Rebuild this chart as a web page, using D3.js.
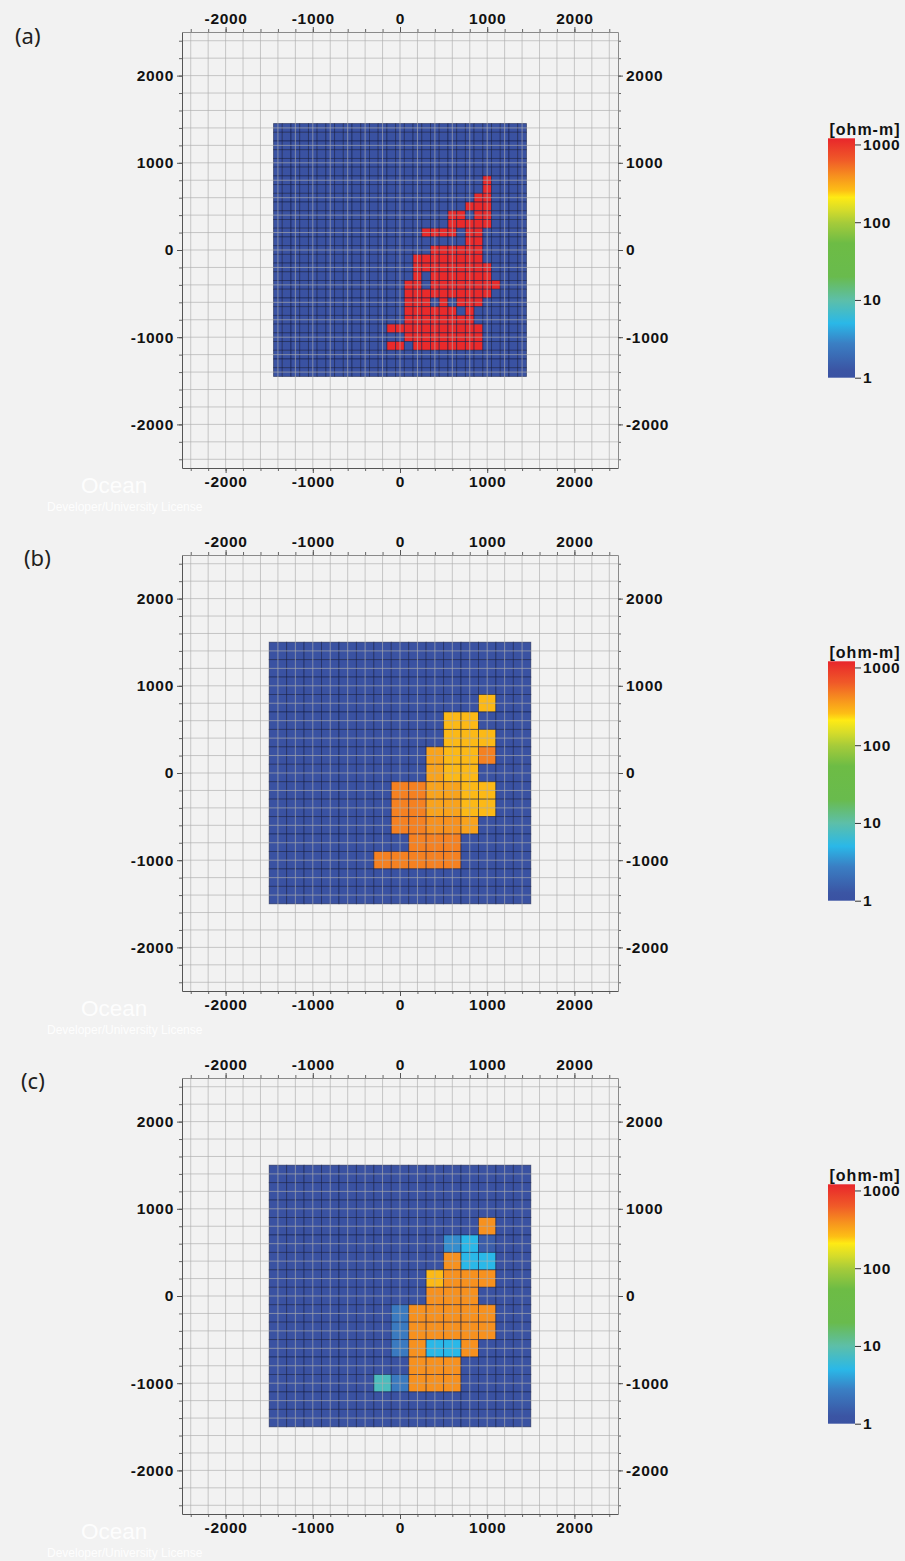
<!DOCTYPE html>
<html>
<head>
<meta charset="utf-8">
<script src="https://cdn.jsdelivr.net/npm/d3@7"></script>
<style>
  html, body { margin: 0; padding: 0; background: #f2f2f2; }
  svg { display: block; }
</style>
</head>
<body>
<svg id="chart" width="905" height="1561"></svg>
<script>
// Map-view resistivity models (coordinates in metres).
// Each string is one row of cells, north to south; one character per cell.

const axisTicks = [-2000, -1000, 0, 1000, 2000];
const scaleTicks = [1, 10, 100, 1000];
const panelLabels = ["(a)", "(b)", "(c)"];

// (a) 100 m cells: columns x = -1400 ... 1400, rows y = 1400 ... -1400
const modelA = [
  ".............................",
  ".............................",
  ".............................",
  ".............................",
  ".............................",
  ".............................",
  "........................R....",
  "........................R....",
  ".......................RR....",
  "......................RRR....",
  "....................RR.RR....",
  "....................RRRRR....",
  ".................RRRR.RR.....",
  "......................RR.....",
  "..................RRRRRR.....",
  "................RRRRRRRR.....",
  "................RRRRRRRRR....",
  "................R.RRRRRRR....",
  "...............RR.RRRRRRRR...",
  "...............RRRRRRRRRR....",
  "...............RRR.R.RRR.....",
  "...............RRRRRR.R......",
  "...............RRRRRRRR......",
  ".............RRRRRRRRRRR.....",
  "...............RRRRRRRRR.....",
  ".............RR.RRRRRRRR.....",
  ".............................",
  ".............................",
  "............................."
];

// (b) 200 m cells: columns x = -1400 ... 1400, rows y = 1400 ... -1400
const modelB = [
  "...............",
  "...............",
  "...............",
  "............y..",
  "..........yy...",
  "..........yyy..",
  ".........myyo..",
  ".........myy...",
  ".......oommyy..",
  ".......oommyy..",
  ".......oonnm...",
  "........ooo....",
  "......ooooo....",
  "...............",
  "..............."
];

// (c) 200 m cells, same layout as (b)
const modelC = [
  "...............",
  "...............",
  "...............",
  "............n..",
  "..........lcq..",
  "..........ncc..",
  ".........ynnn..",
  ".........nnn...",
  ".......bnnnnn..",
  ".......bnnnnn..",
  ".......bnccn...",
  "........nnn....",
  "......pbnnn....",
  "...............",
  "..............."
];

// Resistivity (ohm-m) for each cell code
const cellCodes = [".", "R", "o", "n", "m", "y", "c", "l", "b", "p", "q"];
const cellOhm   = [1, 1150, 450, 390, 330, 270, 5, 3.2, 2.5, 8, 1.5];

// Colour ramp along log10(resistivity)
const rampLog = [0, 0.1, 0.44, 0.7, 1.0, 1.3, 1.73, 1.99, 2.16, 2.32, 2.41, 2.585, 2.8, 3.08];
const rampCol = ["#3a52a2", "#3b55a4", "#3a7fc4", "#2ab8e8", "#5dbfa8", "#69bb4d", "#6dbc45",
                 "#a5cb3a", "#d6dc2a", "#ffea14", "#fdbe15", "#f7931e", "#f05a28", "#e8262b"];

const W = 905, H = 1561;
const svg = d3.select("#chart");
svg.append("rect").attr("width", W).attr("height", H).attr("fill", "#f2f2f2");

const scaleMax = 1200;
const logMax = Math.log10(scaleMax);
const rampScale = d3.scaleLinear().domain(rampLog).range(rampCol)
  .interpolate(d3.interpolateRgb).clamp(true);
const color = v => rampScale(Math.log10(v));

const defs = svg.append("defs");
const grad = defs.append("linearGradient").attr("id", "ohmGrad")
  .attr("x1", 0).attr("y1", 1).attr("x2", 0).attr("y2", 0);
rampLog.forEach((l, k) => {
  grad.append("stop").attr("offset", Math.min(1, l / logMax)).attr("stop-color", rampCol[k]);
});

const labelFont = "'Liberation Sans', Arial, sans-serif";
const plainNum = d => String(d);

function styleAxisText(sel, size) {
  sel.selectAll("text")
    .attr("font-family", labelFont)
    .attr("font-weight", "bold")
    .attr("font-size", size)
    .attr("letter-spacing", "0.7px")
    .attr("fill", "#111");
}

const panels = [
  { model: modelA, size: 100, off: 0,    lx: 15, ly: 44 },
  { model: modelB, size: 200, off: 523,  lx: 24, ly: 566 },
  { model: modelC, size: 200, off: 1046, lx: 21, ly: 1089 }
];

panels.forEach((p, idx) => {
  const off = p.off;
  const x = d3.scaleLinear().domain([-2500, 2500]).range([182, 618]);
  const y = d3.scaleLinear().domain([-2500, 2500]).range([468 + off, 32 + off]);
  const g = svg.append("g");

  // model cells
  const cells = [];
  const n = p.model.length;
  p.model.forEach((row, j) => {
    row.padEnd(n, ".").split("").forEach((ch, i) => {
      const k = Math.max(0, cellCodes.indexOf(ch));
      cells.push({ cx: -1400 + i * p.size, cy: 1400 - j * p.size, v: cellOhm[k] });
    });
  });
  const h = p.size / 2;
  g.append("g").selectAll("rect").data(cells).join("rect")
    .attr("x", d => x(d.cx - h))
    .attr("y", d => y(d.cy + h))
    .attr("width", d => x(d.cx + h) - x(d.cx - h))
    .attr("height", d => y(d.cy - h) - y(d.cy + h))
    .attr("fill", d => color(d.v))
    .attr("stroke", "#141c45")
    .attr("stroke-opacity", 0.6)
    .attr("stroke-width", 0.9);

  // 200 m grid drawn over the model
  const gridVals = x.ticks(25);
  g.append("g").selectAll("line").data(gridVals).join("line")
    .attr("x1", d => x(d)).attr("x2", d => x(d))
    .attr("y1", y(-2500)).attr("y2", y(2500))
    .attr("stroke", "#adadad").attr("stroke-opacity", 0.65).attr("stroke-width", 1);
  g.append("g").selectAll("line").data(gridVals).join("line")
    .attr("y1", d => y(d)).attr("y2", d => y(d))
    .attr("x1", x(-2500)).attr("x2", x(2500))
    .attr("stroke", "#adadad").attr("stroke-opacity", 0.65).attr("stroke-width", 1);

  // minor ticks on all four sides
  const minor = [
    [d3.axisTop(x), `translate(0,${y(2500)})`],
    [d3.axisBottom(x), `translate(0,${y(-2500)})`],
    [d3.axisLeft(y), `translate(${x(-2500)},0)`],
    [d3.axisRight(y), `translate(${x(2500)},0)`]
  ];
  minor.forEach(([ax, tr]) => {
    const a = g.append("g").attr("transform", tr)
      .call(ax.tickValues(gridVals).tickSize(3).tickFormat("").tickSizeOuter(0));
    a.select(".domain").remove();
    a.selectAll("line").attr("stroke", "#666");
  });

  // major ticks with labels
  const major = [
    [d3.axisTop(x), `translate(0,${y(2500)})`, "#8a8a8a"],
    [d3.axisBottom(x), `translate(0,${y(-2500)})`, "#555"],
    [d3.axisLeft(y), `translate(${x(-2500)},0)`, "#555"],
    [d3.axisRight(y), `translate(${x(2500)},0)`, "#8a8a8a"]
  ];
  major.forEach(([ax, tr, dc]) => {
    const a = g.append("g").attr("transform", tr)
      .call(ax.tickValues(axisTicks).tickSize(5).tickPadding(3).tickSizeOuter(0)
        .tickFormat(plainNum));
    a.select(".domain").attr("stroke", dc);
    a.selectAll(".tick line").attr("stroke", "#555");
    styleAxisText(a, 15.5);
  });

  // colour bar
  const cb = d3.scaleLog().domain([1, scaleMax]).range([377.7 + off, 138.3 + off]);
  svg.append("rect")
    .attr("x", 828).attr("y", cb(scaleMax))
    .attr("width", 27).attr("height", cb(1) - cb(scaleMax))
    .attr("fill", "url(#ohmGrad)");
  const cba = svg.append("g").attr("transform", "translate(855,0)")
    .call(d3.axisRight(cb).tickValues(scaleTicks).tickFormat(plainNum)
      .tickSize(6).tickPadding(2).tickSizeOuter(0));
  cba.select(".domain").remove();
  cba.selectAll(".tick line").attr("stroke", "#333");
  styleAxisText(cba, 15.5);
  svg.append("text")
    .attr("x", 865).attr("y", 134.5 + off)
    .attr("text-anchor", "middle")
    .attr("font-family", labelFont).attr("font-weight", "bold")
    .attr("font-size", 16).attr("letter-spacing", "1px").attr("fill", "#111")
    .text("[ohm-m]");

  // software licence watermark
  svg.append("text")
    .attr("x", 81).attr("y", 493 + off)
    .attr("font-family", labelFont).attr("font-size", 22.5)
    .attr("fill", "#ffffff").attr("fill-opacity", 0.9)
    .text("Ocean");
  svg.append("text")
    .attr("x", 47).attr("y", 510.5 + off)
    .attr("font-family", labelFont).attr("font-size", 12)
    .attr("fill", "#ffffff").attr("fill-opacity", 0.9)
    .text("Developer/University License");

  // panel letter
  svg.append("text")
    .attr("x", p.lx).attr("y", p.ly)
    .attr("font-family", "'Noto Sans', 'Open Sans', sans-serif")
    .attr("font-size", 22).attr("fill", "#231f20")
    .text(panelLabels[idx]);
});
</script>
</body>
</html>
